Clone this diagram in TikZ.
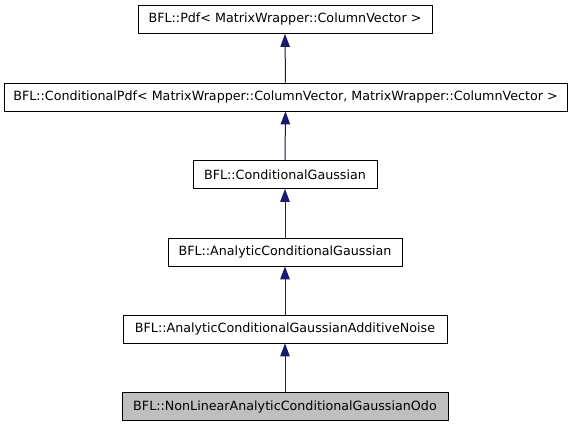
\documentclass[tikz,border=0pt]{standalone}
\usepackage{fontspec}
\setmainfont{DejaVu Sans}
\usetikzlibrary{arrows.meta,positioning}
\definecolor{edgeblue}{HTML}{191970}
\definecolor{curgray}{HTML}{BFBFBF}
\tikzset{
  klass/.style={rectangle, draw=black, line width=0.8pt, fill=#1, inner sep=0pt,
                font=\fontsize{12.7}{15}\selectfont, minimum height=28pt},
  klass/.default=white,
  arr/.style={-{Triangle[length=13pt, width=9.5pt]}, line width=1pt, draw=edgeblue, fill=edgeblue},
}
\begin{document}
\begin{tikzpicture}[x=1pt, y=-1pt]
    \useasboundingbox (0,0) rectangle (571,427);
    \node[klass, minimum width=294pt] (pdf) at (285,19.5)
      {BFL::Pdf< MatrixWrapper::ColumnVector >};
    \node[klass, minimum width=563pt] (cpdf) at (285.5,97)
      {BFL::ConditionalPdf< MatrixWrapper::ColumnVector, MatrixWrapper::ColumnVector >};
    \node[klass, minimum width=184pt] (cg) at (285,174.5)
      {BFL::ConditionalGaussian};
    \node[klass, minimum width=234pt] (acg) at (285,252)
      {BFL::AnalyticConditionalGaussian};
    \node[klass, minimum width=324pt] (acgan) at (285,329)
      {BFL::AnalyticConditionalGaussianAdditiveNoise};
    \node[klass=curgray, minimum width=326pt] (nlacgo) at (285,406.5)
      {BFL::NonLinearAnalyticConditionalGaussianOdo};
    \draw[arr] (cpdf.north) -- (pdf.south);
    \draw[arr] (cg.north) -- (cpdf.south);
    \draw[arr] (acg.north) -- (cg.south);
    \draw[arr] (acgan.north) -- (acg.south);
    \draw[arr] (nlacgo.north) -- (acgan.south);
\end{tikzpicture}
\end{document}
